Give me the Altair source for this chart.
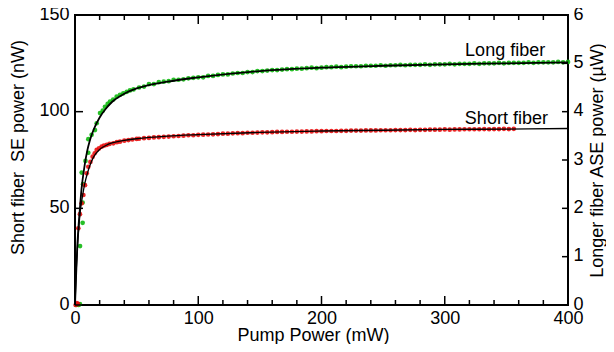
import altair as alt
import pandas as pd

# ---------------- data ----------------
# Long fiber (green dots), ASE power in µW (right axis)
green_x = [1.0, 2.0, 3.0, 4.0, 4.1, 6.2, 6.2, 6.5, 5.4, 8.5, 10.8, 10.8, 13.5, 16.2, 17.6, 20.3, 22.5,
           24.3, 26.5, 28.4, 31.0, 33.8, 36.5, 39.2, 42.0, 44.6, 47.5,
           52, 56, 60, 64, 68, 72, 76, 80, 84, 88, 92, 96, 100, 104, 108, 112, 116, 120, 124, 128,
           132, 136, 140, 144, 148, 152, 156, 160, 164, 168, 172, 176, 180, 184, 188, 192, 196, 200,
           204, 208, 212, 216, 220, 224, 228, 232, 236, 240, 244, 248, 252, 256, 260, 264, 268, 272,
           276, 280, 284, 288, 292, 296, 300, 304, 308, 312, 316, 320, 324, 328, 332, 336, 340, 344,
           348, 352, 356, 360, 364, 368, 372, 376, 380, 384, 388, 392, 396, 400]
green_uW = [0.0, 0.01, 0.0, 0.02, 1.22, 1.70, 2.12, 2.50, 2.74, 2.98, 3.15, 3.43, 3.52, 3.62, 3.76, 3.97, 4.02,
            4.10, 4.16, 4.21, 4.25, 4.31, 4.35, 4.38, 4.41, 4.44, 4.46,
            4.50, 4.52, 4.57, 4.57, 4.61, 4.62, 4.63, 4.66, 4.66, 4.67, 4.69, 4.70, 4.71, 4.71, 4.74, 4.74, 4.76, 4.77, 4.77, 4.79,
            4.80, 4.80, 4.82, 4.82, 4.84, 4.84, 4.85, 4.86, 4.86, 4.87, 4.88, 4.88, 4.89, 4.89, 4.90, 4.91, 4.90, 4.91,
            4.92, 4.92, 4.93, 4.92, 4.93, 4.94, 4.94, 4.94, 4.95, 4.95, 4.95, 4.96, 4.95, 4.96, 4.96, 4.97, 4.96, 4.97,
            4.97, 4.97, 4.98, 4.97, 4.98, 4.98, 4.98, 4.99, 4.98, 4.99, 4.99, 4.99, 5.00, 4.99, 5.00, 5.00, 5.00, 5.01,
            5.00, 5.01, 5.01, 5.01, 5.01, 5.02, 5.01, 5.02, 5.02, 5.02, 5.02, 5.03, 5.02, 5.03]

# Short fiber (red dots), SE power in nW (left axis)
red_x = [0.5, 1.5, 2.5, 2.7, 4.0, 5.4, 6.8, 8.1, 9.5, 10.8, 12.5, 14.3, 16.0, 17.6, 19.5, 21.6, 23.5, 25.7,
         28.0, 31.1, 34.0, 36.5, 40.0, 43.3, 46.5, 50.0,
         52, 56, 60, 64, 68, 72, 76, 80, 84, 88, 92, 96, 100, 104, 108, 112, 116, 120, 124, 128,
         132, 136, 140, 144, 148, 152, 156, 160, 164, 168, 172, 176, 180, 184, 188, 192, 196, 200,
         204, 208, 212, 216, 220, 224, 228, 232, 236, 240, 244, 248, 252, 256, 260, 264, 268, 272,
         276, 280, 284, 288, 292, 296, 300, 304, 308, 312, 316, 320, 324, 328, 332, 336, 340, 344,
         348, 352, 356]
red_nW = [0.0, 1.0, 0.5, 39.7, 47.0, 52.6, 56.9, 62.0, 68.1, 71.5, 74.0, 76.7, 78.5, 80.2, 81.0, 81.9, 82.4, 82.8,
          83.3, 83.6, 84.2, 84.5, 85.0, 85.3, 85.6, 85.9,
          86.0, 86.3, 86.4, 86.7, 86.8, 87.0, 87.1, 87.3, 87.4, 87.6, 87.8, 87.8, 88.0, 88.1, 88.2, 88.3, 88.4, 88.6, 88.6, 88.8,
          88.9, 88.9, 89.1, 89.1, 89.2, 89.3, 89.3, 89.4, 89.5, 89.5, 89.6, 89.6, 89.7, 89.7, 89.8, 89.8, 89.9, 89.9,
          90.0, 90.0, 90.0, 90.1, 90.1, 90.2, 90.2, 90.2, 90.3, 90.3, 90.3, 90.4, 90.4, 90.4, 90.5, 90.5, 90.5, 90.6,
          90.5, 90.6, 90.6, 90.7, 90.7, 90.7, 90.8, 90.7, 90.8, 90.8, 90.9, 90.9, 90.9, 90.9, 91.0, 90.9, 91.0, 91.0,
          91.1, 91.0, 91.1]

# Fit curves (black lines)
long_fit_x = [0, 1, 2, 3, 4, 5, 6, 8, 10, 12, 15, 20, 25, 30, 40, 50, 75, 100, 150, 200, 250, 300, 350, 400]
long_fit_uW = [0, 0.68, 1.28, 1.68, 2.00, 2.32, 2.56, 2.92, 3.20, 3.40, 3.62, 3.88, 4.06, 4.20, 4.37, 4.48,
               4.62, 4.71, 4.84, 4.91, 4.95, 4.98, 5.00, 5.02]
short_fit_x = [0, 1, 2, 3, 4, 5, 6, 8, 10, 12, 15, 20, 25, 30, 40, 50, 75, 100, 150, 200, 250, 300, 350, 400]
short_fit_nW = [0, 18, 30, 39, 47, 52, 56, 63, 68, 72, 76.5, 80.5, 82.5, 83.8, 85.2, 86.0, 87.3, 88.1,
                89.3, 90.0, 90.4, 90.8, 91.0, 91.3]

# Curve labels (x in mW, y in left-axis nW units)
label_text = ["Long fiber", "Short fiber"]
label_x = [349, 350]
label_y = [128.8, 93.5]

x_major = [0, 100, 200, 300, 400]
x_minor = [20, 40, 60, 80, 120, 140, 160, 180, 220, 240, 260, 280, 320, 340, 360, 380]
left_ticks = [0, 50, 100, 150]
right_ticks_uW = [0, 1, 2, 3, 4, 5, 6]
UW_TO_NW = 25  # right axis 0-6 µW spans the same height as left axis 0-150 nW

# ---------------- chart ----------------
W, H = 493, 290
FONT = "Liberation Sans"
GREEN = "#10b810"
RED = "#e81010"

green_df = pd.DataFrame({"x": green_x, "uW": green_uW})
red_df = pd.DataFrame({"x": red_x, "nW": red_nW})
long_df = pd.DataFrame({"x": long_fit_x, "uW": long_fit_uW})
short_df = pd.DataFrame({"x": short_fit_x, "nW": short_fit_nW})
lab_df = pd.DataFrame({"t": label_text, "x": label_x, "y": label_y})
xmaj_df = pd.DataFrame({"t": x_major})
xmin_df = pd.DataFrame({"t": x_minor})
yl_df = pd.DataFrame({"t": left_ticks})
yr_df = pd.DataFrame({"t": right_ticks_uW})

xs = alt.Scale(domain=[0, 400], nice=False, zero=False)
ys = alt.Scale(domain=[0, 150], nice=False, zero=False)

x_main_axis = alt.Axis(values=x_major, ticks=False, domain=False, grid=False, labelFontSize=18,
                       labelPadding=4, labelFlush=False, title="Pump Power (mW)", titleFontSize=18,
                       titleX=238, titleY=30, titleBaseline="middle", titleAlign="center",
                       orient="bottom", format="d")
y_left_axis = alt.Axis(values=left_ticks, ticks=False, domain=False, grid=False, labelFontSize=18,
                       labelPadding=6, labelOffset=-1, title="Short fiber\u00a0 SE power (nW)",
                       titleFontSize=18, titleX=-57, titleY=132, titleAngle=270,
                       titleBaseline="middle", titleAlign="center", orient="left", format="d")
y_right_axis = alt.Axis(values=[v * UW_TO_NW for v in right_ticks_uW], labelExpr=f"datum.value / {UW_TO_NW}",
                        ticks=False, domain=False, grid=False, labelFontSize=18, labelPadding=5,
                        labelOffset=-1, title="Longer fiber ASE power (\u00b5W)", titleFontSize=18,
                        titleX=29, titleY=145, titleAngle=270, titleBaseline="middle",
                        titleAlign="center", orient="right")

red_pts = alt.Chart(red_df).mark_circle(size=22, color=RED, opacity=0.9).encode(
    x=alt.X("x:Q", scale=xs, axis=x_main_axis),
    y=alt.Y("nW:Q", scale=ys, axis=y_left_axis),
)
green_pts = alt.Chart(green_df).transform_calculate(v=f"datum.uW * {UW_TO_NW}").mark_circle(
    size=22, color=GREEN, opacity=0.9).encode(
    x=alt.X("x:Q", scale=xs, axis=None),
    y=alt.Y("v:Q", scale=ys, axis=y_right_axis),
)
long_line = alt.Chart(long_df).transform_calculate(v=f"datum.uW * {UW_TO_NW}").mark_line(
    color="black", strokeWidth=1.8, interpolate="monotone").encode(
    x=alt.X("x:Q", scale=xs, axis=None),
    y=alt.Y("v:Q", scale=ys, axis=None),
)
short_line = alt.Chart(short_df).mark_line(color="black", strokeWidth=1.3, interpolate="monotone").encode(
    x=alt.X("x:Q", scale=xs, axis=None),
    y=alt.Y("nW:Q", scale=ys, axis=None),
)
labels = alt.Chart(lab_df).mark_text(font=FONT, fontSize=18, color="black", align="center",
                                     baseline="alphabetic").encode(
    x=alt.X("x:Q", scale=xs, axis=None),
    y=alt.Y("y:Q", scale=ys, axis=None),
    text="t:N",
)

# inward tick marks on all four sides of the frame
TW = 1.5


def xticks(df, y0, y1):
    return alt.Chart(df).mark_rule(color="black", strokeWidth=TW).encode(
        x=alt.X("t:Q", scale=xs, axis=None), y=alt.value(y0), y2=alt.value(y1))


tick_layers = [
    xticks(xmaj_df, H, H - 9), xticks(xmin_df, H, H - 5),
    xticks(xmaj_df, 0, 9), xticks(xmin_df, 0, 5),
    alt.Chart(yl_df).mark_rule(color="black", strokeWidth=TW).encode(
        y=alt.Y("t:Q", scale=ys, axis=None), x=alt.value(0), x2=alt.value(8)),
    alt.Chart(yr_df).transform_calculate(v=f"datum.t * {UW_TO_NW}").mark_rule(
        color="black", strokeWidth=TW).encode(
        y=alt.Y("v:Q", scale=ys, axis=None), x=alt.value(W - 6), x2=alt.value(W)),
]

chart = alt.layer(green_pts, red_pts, long_line, short_line, labels, *tick_layers).resolve_axis(
    x="independent", y="independent"
).properties(
    width=W, height=H,
    autosize=alt.AutoSizeParams(type="none"),
    padding={"left": 67, "top": 7, "right": 38, "bottom": 39},
).configure_axis(
    labelFont=FONT, titleFont=FONT, labelColor="black", titleColor="black",
    titleFontWeight="normal",
).configure_view(stroke="black", strokeWidth=2)

chart.save("out.html", embed_options={"renderer": "svg", "actions": False})
